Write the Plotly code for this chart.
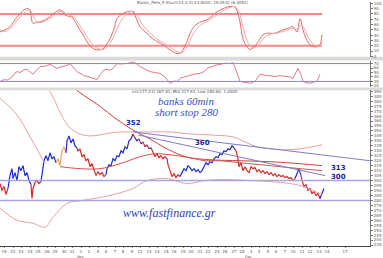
import plotly.graph_objects as go

# ---------------- price bars (60-min, bar index, close, trend colour code) ----------------
bar_x = [0, 2, 4, 6, 8,
         10, 12, 13, 15, 17, 19, 21, 23, 25, 27, 29, 31,
         32, 33, 35, 37, 39, 41,
         42, 43, 44, 46, 48, 50, 52, 54, 56,
         58, 60, 62, 64, 66,
         67, 69, 71, 73, 75, 77,
         78, 80, 82, 84, 86, 88, 90, 92, 94, 96, 98, 100, 102, 104, 106,
         107, 109, 111, 113, 115, 117, 119, 121, 123, 125, 127, 129, 131, 133,
         135, 137, 139, 141, 143, 145, 147, 149, 151,
         153, 155, 157, 159, 161, 163, 165, 167, 168, 170, 172, 174, 176, 178, 180,
         182, 184, 186, 188, 190, 192, 194, 196, 198, 200, 202, 204, 206, 208, 210, 212, 214,
         216, 218, 220, 222, 224, 226, 228, 230, 232, 234,
         236, 238, 239, 241, 243, 245, 247, 249, 251, 253, 255, 257, 259, 261, 263, 265, 267,
         269, 271, 273, 275, 277, 279, 281, 283, 285, 287, 289, 291, 293, 295,
         297, 299, 301,
         302, 304, 306, 308, 310, 312, 314, 316, 318, 320,
         322, 324]
bar_price = [297, 290, 294, 286, 292,
             305, 312, 302, 308, 300, 314, 310, 315, 305, 308, 300, 296,
             282, 292, 298, 300, 297, 299,
             305, 315, 320, 325, 320, 328, 322, 324, 318,
             322, 315, 330, 334, 328,
             340, 345, 338, 342, 335, 333,
             330, 332, 324, 326, 320, 322, 314, 317, 310, 305, 309, 306, 308, 304, 306,
             312, 316, 315, 322, 320, 325, 324, 330, 328, 334, 332, 340, 342, 347,
             343, 340, 342, 337, 339, 334, 336, 332, 333,
             328, 324, 327, 323, 325, 322, 324, 322, 316, 310, 304, 307, 303, 306, 304,
             308, 312, 310, 315, 313, 310, 312, 309, 311, 308, 310, 314, 318, 316, 319, 318, 322,
             324, 323, 327, 326, 330, 329, 332, 331, 335, 333,
             330, 322, 314, 318, 310, 314, 310, 308, 314, 312, 313, 309, 311, 308, 310, 307, 309,
             306, 308, 305, 307, 304, 306, 304, 305, 303, 304, 302, 303, 300, 302,
             308, 312, 305,
             300, 294, 296, 290, 292, 287, 289, 285, 287, 282,
             288, 292]
bar_trend = list("rrrrr" "bbbbbbbbbbbb" "rrrrrr" "bbbbbbbbb" "ooooo" "bbbbbb"
                 "rrrrrrrrrrrrrrr" "bbbbbbbbbbbbbb" "rbbrbrbrb"
                 "rrrrrrrrrrrrrrr" "bbbbbbbbbbbbbbbbb" "bbbbbbbbbb"
                 "rrrrrrrrrrrrrrrrr" "rrrrrrrrrrrrrr" "bbb" "rrrrrrrrrr" "bb")

# ---------------- overlays on price ----------------
band_left_x = [0, 10, 20, 30, 38, 44]
band_left_y = [383, 374, 362, 344, 330, 318]
upper_x = [48, 55, 62, 70, 80, 90, 100, 110, 120, 133, 150, 170, 190, 210, 233, 245, 257, 270, 285, 300, 312, 322]
upper_y = [394, 380, 365, 353, 347, 345, 346, 348, 349, 349, 349, 349, 347, 346, 344, 339, 334, 332, 331, 332, 334, 336]
lower_x = [0, 17, 33, 45, 53, 67, 83, 110, 133, 147, 167, 187, 205, 223, 250, 270, 290, 300, 310, 322]
lower_y = [272, 260, 257, 253, 263, 277, 280, 285, 292, 300, 302, 297, 300, 301, 300, 299, 297, 295, 291, 286]
ma_long_x = [73, 85, 100, 115, 133, 150, 165, 180, 190, 210, 240, 270, 300, 322]
ma_long_y = [394, 385, 375, 363, 351, 342, 333, 326, 323, 321, 320, 319, 317, 315]
ma_mid_x = [60, 80, 100, 120, 140, 155, 170, 190, 205, 220, 240, 260, 280, 300, 322]
ma_mid_y = [314, 312, 312, 317, 324, 327, 326, 323, 320, 320, 318, 316, 314, 312, 310]
trend1_x = [133, 370]
trend1_y = [349, 320]
trend2_x = [138, 325]
trend2_y = [346, 305]
support_levels = [300, 280]
marks_text = ["352", "360", "313", "300"]
marks_x = [133, 202, 338, 338]
marks_y = [358, 338, 313, 304]

# ---------------- stochastic ----------------
stoch_x = [0, 5, 10, 14, 17, 21, 25, 28, 30, 33, 36, 40, 44, 47, 52, 56, 60, 63, 65, 68, 72, 75, 77,
           82, 87, 91, 95, 99, 103, 107, 110, 114, 117, 122, 127, 130, 133, 137, 140, 146, 153, 158,
           163, 170, 177, 180, 182, 185, 188, 190, 193, 197, 202, 207, 212, 217, 222, 227, 231, 235,
           238, 240, 243, 247, 250, 254, 257, 260, 263, 268, 273, 278, 283, 288, 293, 297, 300, 303,
           306, 310, 314, 317, 320, 322]
stoch_k = [46, 50, 56, 66, 74, 82, 89, 90, 86, 62, 64, 65, 68, 71, 78, 84, 88, 82, 78, 76, 74, 66, 59,
           44, 28, 18, 13, 12, 14, 24, 33, 52, 71, 80, 84, 85, 84, 68, 56, 45, 33, 27,
           22, 12, 5, 6, 9, 20, 33, 43, 54, 61, 66, 69, 76, 84, 89, 93, 94, 93,
           80, 65, 33, 18, 13, 18, 24, 33, 41, 44, 43, 46, 50, 53, 56, 46, 71, 50,
           34, 22, 18, 18, 22, 41]
stoch_d = [50, 47, 52, 60, 68, 76, 84, 88, 88, 76, 68, 64, 66, 69, 74, 80, 85, 85, 82, 79, 76, 72, 66,
           52, 37, 26, 18, 14, 13, 17, 24, 38, 52, 70, 80, 84, 85, 78, 67, 52, 39, 31,
           26, 17, 9, 7, 7, 12, 21, 30, 42, 53, 61, 66, 72, 78, 85, 90, 93, 94,
           88, 78, 55, 30, 20, 16, 19, 25, 33, 40, 43, 44, 47, 50, 53, 51, 58, 56,
           45, 30, 22, 19, 19, 30]
stoch_levels = [80, 20]

# ---------------- RSI ----------------
rsi_x = [0, 4, 8, 12, 15, 17, 20, 24, 27, 30, 33, 36, 40, 45, 50, 54, 57, 60, 63, 67, 70, 73, 77, 81,
         85, 88, 92, 97, 100, 104, 107, 110, 113, 117, 121, 125, 129, 133, 137, 140, 145, 150, 155,
         160, 165, 170, 174, 177, 181, 185, 190, 195, 200, 204, 207, 211, 215, 220, 225, 229, 233,
         236, 240, 245, 250, 255, 260, 265, 270, 275, 280, 285, 290, 293, 296, 298, 301, 303, 307,
         310, 314, 317, 320]
rsi_v = [30, 34, 33, 40, 49, 52, 50, 56, 57, 52, 46, 54, 63, 64, 68, 63, 59, 62, 63, 66, 70, 62, 52, 47,
         42, 41, 38, 34, 45, 56, 57, 55, 59, 70, 69, 70, 71, 74, 69, 63, 58, 52, 50,
         48, 40, 26, 31, 30, 38, 41, 43, 47, 48, 52, 59, 63, 66, 68, 71, 70, 72,
         56, 30, 28, 26, 30, 46, 44, 42, 41, 43, 41, 40, 37, 50, 59, 45, 30, 27,
         26, 29, 30, 46]
rsi_levels = [70, 30]

# ---------------- time axis ----------------
day_ticks = [4, 13, 21, 30, 38, 47, 55, 64, 72, 81, 89, 98, 106, 115, 123, 132, 140, 149, 157, 166,
             174, 183, 191, 200, 208, 217, 225, 234, 242, 251, 259, 268, 276, 285, 293, 302, 310,
             319, 327, 345]
day_labels = ["19", "22", "23", "24", "25", "26", "29", "30", "31", "1", "2", "5", "6", "7", "8", "9",
              "12", "13", "14", "15", "16", "19", "20", "21", "22", "23", "26", "27", "28", "3", "4",
              "5", "6", "7", "10", "11", "12", "13", "14", "17"]
month_names = ["Nov", "Dec"]
month_x = [80, 248]

# ---------------- figure ----------------
COL = {"b": "#1c2ad4", "r": "#d42a2a", "o": "#eaa35a"}
fig = go.Figure()

start = 0
n = len(bar_x)
for i in range(1, n + 1):
    if i == n or bar_trend[i] != bar_trend[start]:
        lo = max(start - 1, 0)
        fig.add_trace(go.Scatter(x=bar_x[lo:i], y=bar_price[lo:i], mode="lines",
                                 line=dict(color=COL[bar_trend[start]], width=1.2),
                                 xaxis="x", yaxis="y", hoverinfo="skip"))
        start = i

def line(x, y, color, width, xa="x", ya="y"):
    fig.add_trace(go.Scatter(x=x, y=y, mode="lines", xaxis=xa, yaxis=ya, hoverinfo="skip",
                             line=dict(color=color, width=width, shape="spline")))

line(band_left_x, band_left_y, "#e8a0a0", 1)
line(upper_x, upper_y, "#e8a0a0", 1)
line(lower_x, lower_y, "#e8a0a0", 1)
line(ma_long_x, ma_long_y, "#d04040", 1)
line(ma_mid_x, ma_mid_y, "#d65050", 1)
line(trend1_x, trend1_y, "#7d7dc8", 1)
line(trend2_x, trend2_y, "#7d7dc8", 1)

shapes = []
for lv in support_levels:
    shapes.append(dict(type="line", xref="paper", yref="y", x0=0, x1=1, y0=lv, y1=lv,
                       line=dict(color="#a6a6e0", width=1.5)))
for lv in rsi_levels:
    shapes.append(dict(type="line", xref="paper", yref="y2", x0=0, x1=1, y0=lv, y1=lv,
                       line=dict(color="#8a8ac8", width=1)))
shapes.append(dict(type="rect", xref="paper", yref="paper", x0=0, x1=1.035, y0=0.760, y1=0.776,
                   fillcolor="#dadada", line=dict(width=0), layer="below"))
shapes.append(dict(type="rect", xref="paper", yref="paper", x0=0, x1=1.035, y0=0.638, y1=0.650,
                   fillcolor="#dadada", line=dict(width=0), layer="below"))

for lv in stoch_levels:
    fig.add_trace(go.Scatter(x=[stoch_x[0], stoch_x[-1]], y=[lv, lv], mode="lines", xaxis="x3",
                             yaxis="y3", hoverinfo="skip", line=dict(color="#f08a8a", width=2)))
line(stoch_x, stoch_k, "#e06a6a", 1, "x3", "y3")
line(stoch_x, stoch_d, "#f0a8a8", 1, "x3", "y3")

fig.add_trace(go.Scatter(x=rsi_x, y=rsi_v, mode="lines", xaxis="x2", yaxis="y2", hoverinfo="skip",
                         line=dict(color="#e07a8a", width=1)))

ann = []
for t, x, y in zip(marks_text, marks_x, marks_y):
    ann.append(dict(x=x, y=y, xref="x", yref="y", text="<b>" + t + "</b>", showarrow=False,
                    font=dict(family="DejaVu Sans", size=7, color="#23239a")))
ann.append(dict(x=186, y=380, xref="x", yref="y", text="<i>banks 60min</i>", showarrow=False,
                font=dict(family="Liberation Serif", size=11, color="#3a4fc0")))
ann.append(dict(x=186, y=369, xref="x", yref="y", text="<i>short stop 280</i>", showarrow=False,
                font=dict(family="Liberation Serif", size=11, color="#3a4fc0")))
ann.append(dict(x=169, y=267, xref="x", yref="y", text="<i>www.fastfinance.gr</i>", showarrow=False,
                font=dict(family="Liberation Serif", size=12, color="#2d3fb0")))
ann.append(dict(x=193, y=101, xref="x3", yref="y3", text="Banks_Pete_5 Stoch(14,3,3) 24.8020, 19.0532 (6.0052)",
                showarrow=False, font=dict(family="DejaVu Sans", size=4, color="#555")))
ann.append(dict(x=182, y=77.5, xref="x2", yref="y2", text="<u>Relative Strength Index (14) 30.6043</u>",
                showarrow=False, font=dict(family="DejaVu Sans", size=4, color="#444")))
ann.append(dict(x=185, y=389.5, xref="x", yref="y", text="Lin(177.23) 367.91, Mid 317.91, Low 280.60, 1.0000",
                showarrow=False, font=dict(family="DejaVu Sans", size=4, color="#555")))
for m, x in zip(month_names, month_x):
    ann.append(dict(x=x, y=-0.027, xref="x", yref="paper", text=m, showarrow=False, yanchor="top",
                    font=dict(family="DejaVu Sans", size=3.5, color="#555")))

axis_common = dict(showgrid=False, zeroline=False, showline=True, linecolor="#777", linewidth=1,
                   side="right", ticks="outside", ticklen=2, tickcolor="#777",
                   tickfont=dict(family="DejaVu Sans", size=4, color="#555"))

fig.update_layout(
    width=383, height=258, margin=dict(l=0, r=13, t=0, b=12),
    paper_bgcolor="white", plot_bgcolor="white", showlegend=False,
    shapes=shapes, annotations=ann,
    xaxis=dict(domain=[0, 1], anchor="y", range=[0, 370], showgrid=False, zeroline=False,
               showline=True, linecolor="#444", linewidth=1, tickvals=day_ticks, ticktext=day_labels,
               ticks="outside", ticklen=1, tickcolor="#888",
               tickfont=dict(family="DejaVu Sans", size=4, color="#555")),
    xaxis2=dict(domain=[0, 1], anchor="y2", matches="x", range=[0, 370], showgrid=False,
                zeroline=False, showticklabels=False),
    xaxis3=dict(domain=[0, 1], anchor="y3", matches="x", range=[0, 370], showgrid=False,
                zeroline=False, showticklabels=False),
    yaxis=dict(domain=[0, 0.638], anchor="x", range=[234, 391], dtick=5, **axis_common),
    yaxis2=dict(domain=[0.650, 0.760], anchor="x2", range=[16.7, 76.7], dtick=10, **axis_common),
    yaxis3=dict(domain=[0.776, 1], anchor="x3", range=[-0.56, 102.6], dtick=10, **axis_common),
)

fig.write_html("out.html")
